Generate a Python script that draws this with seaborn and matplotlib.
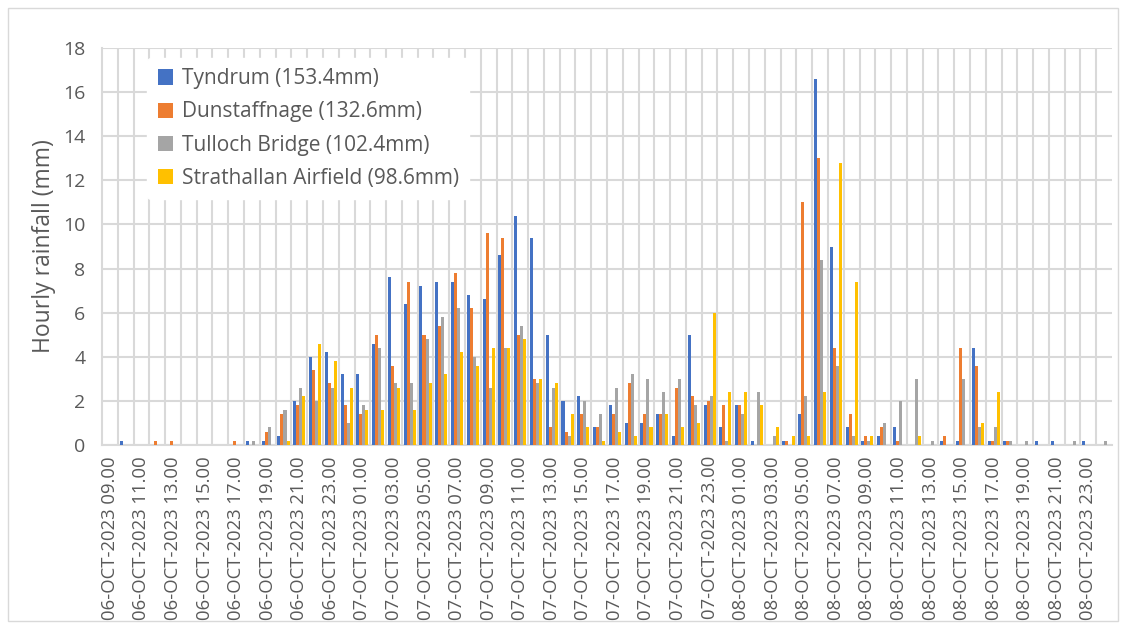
import numpy as np
import pandas as pd
import matplotlib
matplotlib.use("Agg")
import matplotlib.pyplot as plt
from matplotlib.patches import Rectangle
import seaborn as sns

# hourly categories: 06-OCT 09.00 ... 08-OCT 24.00
times = ([f"06-OCT-2023 {h:02d}.00" for h in range(9, 24)]
         + [f"07-OCT-2023 {h:02d}.00" for h in range(0, 24)]
         + [f"08-OCT-2023 {h:02d}.00" for h in range(0, 25)])

stations = ["Tyndrum (153.4mm)", "Dunstaffnage (132.6mm)",
            "Tulloch Bridge (102.4mm)", "Strathallan Airfield (98.6mm)"]
colors = ["#4472C4", "#ED7D31", "#A5A5A5", "#FFC000"]

tyndrum = [0, 0.2, 0, 0, 0, 0, 0, 0, 0, 0.2, 0.2, 0.4, 2.0, 4.0, 4.2,
           3.2, 3.2, 4.6, 7.6, 6.4, 7.2, 7.4, 7.4, 6.8, 6.6, 8.6, 10.4, 9.4, 5.0, 2.0, 2.2,
           0.8, 1.8, 1.0, 1.0, 1.4, 0.4, 5.0, 1.8,
           0.8, 1.8, 0.2, 0, 0.2, 1.4, 16.6, 9.0, 0.8, 0.2, 0.4, 0.8, 0, 0, 0.2, 0.2,
           4.4, 0.2, 0.2, 0, 0.2, 0.2, 0, 0.2, 0]
dunstaffnage = [0, 0, 0, 0.2, 0.2, 0, 0, 0, 0.2, 0, 0.6, 1.4, 1.8, 3.4, 2.8,
                1.8, 1.4, 5.0, 3.6, 7.4, 5.0, 5.4, 7.8, 6.2, 9.6, 9.4, 5.0, 3.0, 0.8, 0.6, 1.4,
                0.8, 1.4, 2.8, 1.4, 1.4, 2.6, 2.2, 2.0,
                1.8, 1.8, 0, 0, 0.2, 11.0, 13.0, 4.4, 1.4, 0.4, 0.8, 0.2, 0, 0, 0.4, 4.4,
                3.6, 0.2, 0.2, 0, 0, 0, 0, 0, 0]
tulloch = [0, 0, 0, 0, 0, 0, 0, 0, 0, 0.2, 0.8, 1.6, 2.6, 2.0, 2.6,
           1.0, 1.8, 4.4, 2.8, 2.8, 4.8, 5.8, 6.2, 4.0, 2.6, 4.4, 5.4, 2.8, 2.6, 0.4, 2.0,
           1.4, 2.6, 3.2, 3.0, 2.4, 3.0, 1.8, 2.2,
           0.2, 1.4, 2.4, 0.4, 0, 2.2, 8.4, 3.6, 0.4, 0.2, 1.0, 2.0, 3.0, 0.2, 0, 3.0,
           0.8, 0.8, 0.2, 0.2, 0, 0, 0.2, 0, 0.2]
strathallan = [0, 0, 0, 0, 0, 0, 0, 0, 0, 0, 0, 0.2, 2.2, 4.6, 3.8,
               2.6, 1.6, 1.6, 2.6, 1.6, 2.8, 3.2, 4.2, 3.6, 4.4, 4.4, 4.8, 3.0, 2.8, 1.4, 0.8,
               0.2, 0.6, 0.4, 0.8, 1.4, 0.8, 1.0, 6.0,
               2.4, 2.4, 1.8, 0.8, 0.4, 0.4, 2.4, 12.8, 7.4, 0.4, 0, 0, 0.4, 0, 0, 0,
               1.0, 2.4, 0, 0, 0, 0, 0, 0, 0]

df = pd.DataFrame({
    "time": times * 4,
    "station": np.repeat(stations, len(times)),
    "rain": tyndrum + dunstaffnage + tulloch + strathallan,
})

sns.set_theme(style="white")
plt.rcParams["font.family"] = ["Open Sans", "DejaVu Sans"]
grid_c = "#D9D9D9"
text_c = "#595959"

fig = plt.figure(figsize=(11.26, 6.29), dpi=100)
ax = fig.add_axes([102 / 1126, 1 - 445 / 629, 1010 / 1126, 397 / 629])

sns.barplot(data=df, x="time", y="rain", hue="station", palette=colors,
            width=0.77, saturation=1, linewidth=0, ax=ax, zorder=3)

n = len(times)
ax.set_xlim(-0.5, n - 0.5)
ax.set_ylim(0, 18)
ax.set_yticks(np.arange(0, 19, 2))
ax.set_xticks(range(0, n - 1, 2))
ax.set_xticklabels(times[0:n - 1:2], rotation=90, fontsize=13.3, color=text_c)
ax.tick_params(axis="y", labelsize=14, labelcolor=text_c, length=0, pad=12)
ax.tick_params(axis="x", length=0, pad=8)

# gridlines: horizontal every 2 mm, vertical between every hour
ax.grid(axis="y", which="major", color=grid_c, lw=1.5, zorder=0)
for b in np.arange(0.5, n - 0.5, 1):
    ax.axvline(b, color=grid_c, lw=1.5, zorder=0)
ax.set_axisbelow(True)
for s in ["top", "right"]:
    ax.spines[s].set_visible(False)
for s in ["left", "bottom"]:
    ax.spines[s].set_color(grid_c)
    ax.spines[s].set_linewidth(1.5)

ax.set_xlabel("")
ax.set_ylabel("Hourly rainfall (mm)", fontsize=16.5, color=text_c)
ax.yaxis.set_label_coords(-0.046, 0.5)

leg = ax.legend(loc="upper left", bbox_to_anchor=(0.045, 0.975), fontsize=15,
                frameon=True, facecolor="white", edgecolor="white", framealpha=1,
                handlelength=0.75, handleheight=0.75, handletextpad=0.4,
                labelspacing=0.58, borderpad=0.5, borderaxespad=0)
leg.set_zorder(5)
for t in leg.get_texts():
    t.set_color(text_c)

fig.patches.append(Rectangle((8 / 1126, 8 / 629), 1110 / 1126, 613 / 629,
                             transform=fig.transFigure, fill=False,
                             edgecolor=grid_c, lw=1))

fig.savefig("out.png", dpi=100)
